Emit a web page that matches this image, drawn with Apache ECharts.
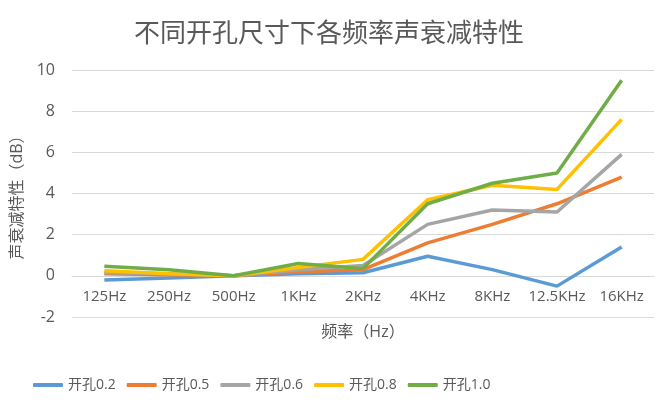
<!DOCTYPE html>
<html><head><meta charset="utf-8">
<script src="https://cdn.jsdelivr.net/npm/echarts@6/dist/echarts.min.js"></script>
<style>html,body{margin:0;padding:0;background:#fff}#c{width:661px;height:408px}</style>
</head><body><div id="c"></div>
<script>
var categories = ['125Hz','250Hz','500Hz','1KHz','2KHz','4KHz','8KHz','12.5KHz','16KHz'];
var s02 = [-0.2, -0.1, 0, 0.1, 0.15, 0.95, 0.3, -0.5, 1.4];
var s05 = [0.1, 0.05, 0, 0.2, 0.3, 1.6, 2.5, 3.5, 4.8];
var s06 = [0.15, 0.1, 0, 0.3, 0.5, 2.5, 3.2, 3.1, 5.9];
var s08 = [0.25, 0.1, 0, 0.4, 0.8, 3.7, 4.4, 4.2, 7.6];
var s10 = [0.47, 0.3, 0, 0.6, 0.35, 3.5, 4.5, 5.0, 9.5];
var names = ['开孔0.2','开孔0.5','开孔0.6','开孔0.8','开孔1.0'];
var colors = ['#5B9BD5','#ED7D31','#A5A5A5','#FFC000','#70AD47'];
var yTicks = {min:-2, max:10, interval:2};

var font = "'Open Sans','Noto Sans CJK SC',sans-serif";
var gridTop = 70, gridBottom = 91, H = 408;
// shift the category axis up so it sits on value 0 (like Excel "axis crosses at 0")
var zeroOffset = -(0 - yTicks.min) / (yTicks.max - yTicks.min) * (H - gridTop - gridBottom);
var chart = echarts.init(document.getElementById('c'));
var data = [s02,s05,s06,s08,s10];
chart.setOption({
  animation:false,
  color: colors,
  textStyle:{fontFamily:font},
  title:{text:'不同开孔尺寸下各频率声衰减特性', top:14, left:129,
    textStyle:{fontSize:26, fontWeight:'normal', color:'#595959', fontFamily:"'Noto Sans CJK SC',sans-serif"}},
  legend:{bottom:11, left:28, itemWidth:30, itemHeight:4, itemGap:11,
    icon:'roundRect',
    textStyle:{fontSize:14, color:'#595959', fontFamily:font}, data:names},
  grid:{left:72, right:7, top:gridTop, bottom:gridBottom},
  xAxis:{type:'category', data:categories, boundaryGap:true, offset: zeroOffset,
    axisLine:{show:true, onZero:false, lineStyle:{color:'#d9d9d9'}},
    axisTick:{show:false},
    axisLabel:{fontSize:15, color:'#595959', margin:13, interval:0},
    name:'频率（Hz）', nameLocation:'middle', nameGap:49,
    nameTextStyle:{fontSize:16, color:'#595959'}},
  yAxis:{type:'value', min:yTicks.min, max:yTicks.max, interval:yTicks.interval,
    axisLine:{show:false}, axisTick:{show:false},
    splitLine:{lineStyle:{color:'#d9d9d9'}},
    axisLabel:{fontSize:16, color:'#595959', margin:17},
    name:'声衰减特性（dB）', nameLocation:'middle', nameGap:46,
    nameTextStyle:{fontSize:16, color:'#595959'}},
  series: data.map(function(d,i){return {name:names[i], type:'line', data:d,
    symbol:'none', lineStyle:{width:3.5, color:colors[i]}, itemStyle:{color:colors[i]}};})
});
</script></body></html>
